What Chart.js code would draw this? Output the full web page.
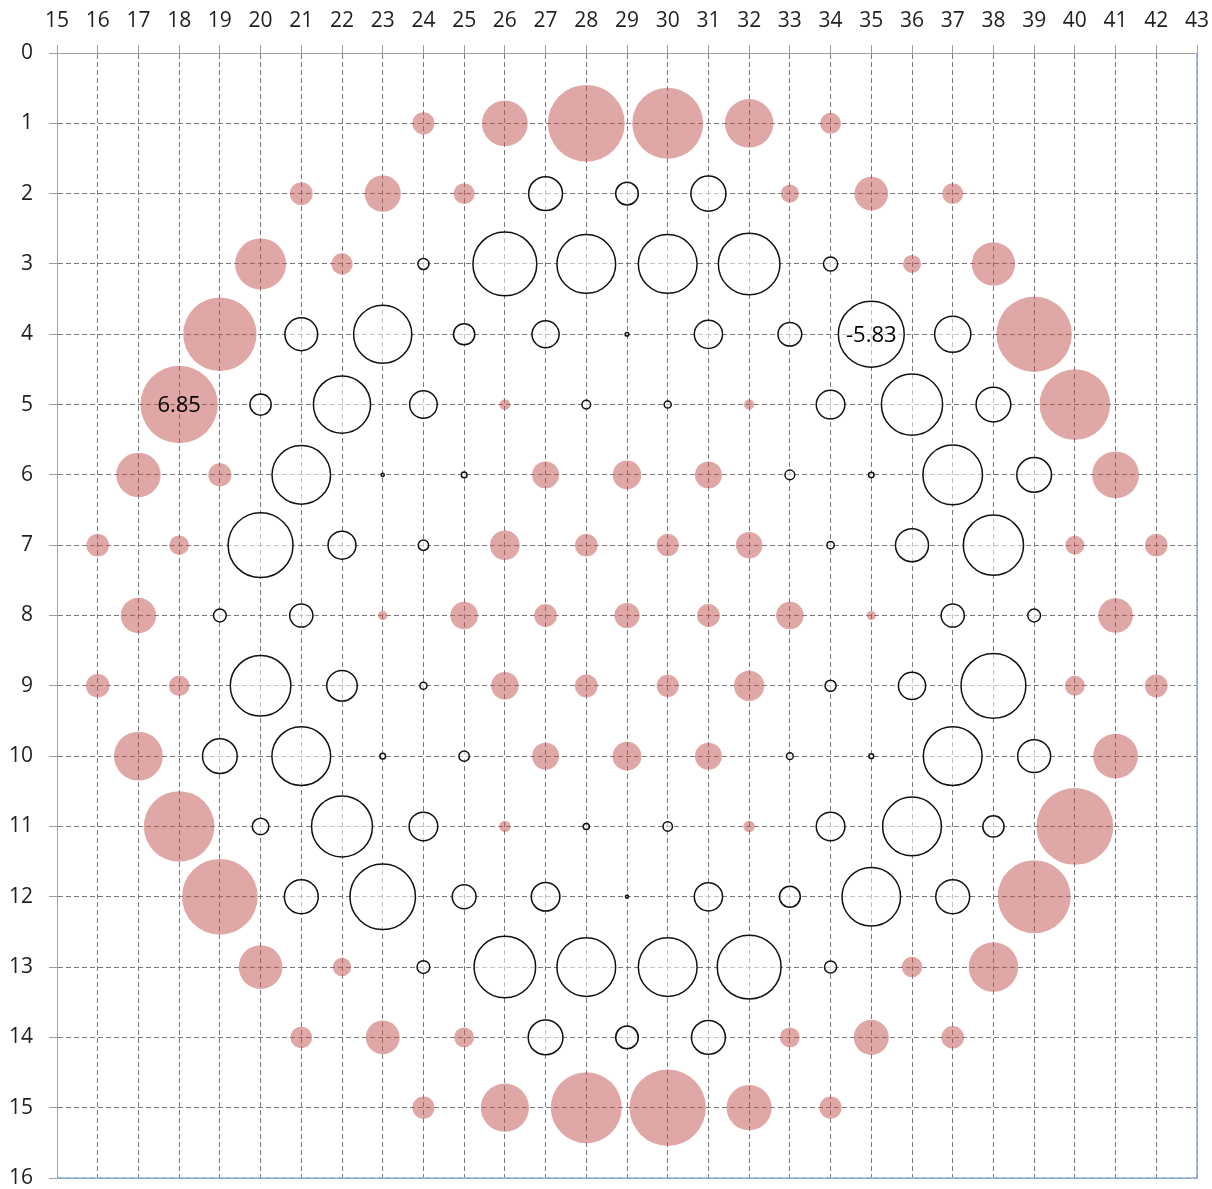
<!DOCTYPE html>
<html>
<head>
<meta charset="utf-8">
<script src="https://cdn.jsdelivr.net/npm/chart.js@4.4.1/dist/chart.umd.min.js"></script>
<style>
  html, body { margin: 0; padding: 0; background: #ffffff; }
  #wrap { width: 1212px; height: 1189px; position: relative; }
</style>
</head>
<body>
<div id="wrap"><canvas id="chart"></canvas></div>
<script>
  "use strict";

  // Axis ranges (x along the top, y reversed downward)
  const X_MIN = 15;
  const X_MAX = 43;
  const Y_MIN = 0;
  const Y_MAX = 16;

  // One list per row: [column, value]; positive = red, negative = hollow
  const ROW_1 = [[24, 1.96], [26, 4.05], [28, 6.8], [30, 6.28], [32, 4.29], [34, 1.85]];
  const ROW_2 = [[21, 2.02], [23, 3.21], [25, 1.85], [27, -3.0], [29, -2.0], [31, -3.1], [33, 1.6], [35, 2.98], [37, 1.85]];
  const ROW_3 = [[20, 4.52], [22, 1.88], [24, -0.98], [26, -5.65], [28, -5.2], [30, -5.2], [32, -5.45], [34, -1.25], [36, 1.6], [38, 3.84]];
  const ROW_4 = [[19, 6.49], [21, -2.9], [23, -5.15], [25, -1.88], [27, -2.4], [29, -0.33], [31, -2.5], [33, -2.1], [35, -5.83], [37, -3.2], [39, 6.67]];
  const ROW_5 = [[18, 6.85], [20, -1.88], [22, -5.06], [24, -2.44], [26, 0.95], [28, -0.77], [30, -0.63], [32, 0.9], [34, -2.53], [36, -5.42], [38, -3.07], [40, 6.25]];
  const ROW_6 = [[17, 3.93], [19, 2.05], [21, -5.18], [23, -0.27], [25, -0.5], [27, 2.38], [29, 2.53], [31, 2.38], [33, -0.86], [35, -0.48], [37, -5.27], [39, -3.07], [41, 4.14]];
  const ROW_7 = [[16, 2.0], [18, 1.73], [20, -5.74], [22, -2.47], [24, -0.92], [26, 2.62], [28, 2.0], [30, 1.96], [32, 2.35], [34, -0.65], [36, -2.92], [38, -5.33], [40, 1.67], [42, 2.0]];
  const ROW_8 = [[17, 3.13], [19, -1.13], [21, -2.05], [23, 0.83], [25, 2.44], [27, 2.02], [29, 2.23], [31, 2.02], [33, 2.44], [35, 0.8], [37, -2.05], [39, -1.13], [41, 3.07]];
  const ROW_9 = [[16, 2.08], [18, 1.82], [20, -5.36], [22, -2.7], [24, -0.63], [26, 2.44], [28, 2.02], [30, 1.96], [32, 2.68], [34, -0.98], [36, -2.41], [38, -5.74], [40, 1.76], [42, 2.02]];
  const ROW_10 = [[17, 4.32], [19, -3.07], [21, -5.2], [23, -0.5], [25, -0.92], [27, 2.38], [29, 2.56], [31, 2.38], [33, -0.6], [35, -0.42], [37, -5.2], [39, -2.92], [41, 3.96]];
  const ROW_11 = [[18, 6.25], [20, -1.46], [22, -5.39], [24, -2.53], [26, 1.0], [28, -0.54], [30, -0.83], [32, 1.0], [34, -2.53], [36, -5.2], [38, -1.88], [40, 6.8]];
  const ROW_12 = [[19, 6.7], [21, -3.0], [23, -5.8], [25, -2.11], [27, -2.53], [29, -0.27], [31, -2.5], [33, -1.85], [35, -5.18], [37, -3.0], [39, 6.46]];
  const ROW_13 = [[20, 3.87], [22, 1.64], [24, -1.13], [26, -5.45], [28, -5.2], [30, -5.2], [32, -5.65], [34, -1.07], [36, 1.82], [38, 4.38]];
  const ROW_14 = [[21, 1.9], [23, 3.0], [25, 1.76], [27, -3.07], [29, -2.0], [31, -3.0], [33, 1.76], [35, 3.1], [37, 2.0]];
  const ROW_15 = [[24, 1.96], [26, 4.26], [28, 6.28], [30, 6.76], [32, 4.0], [34, 1.96]];

  const ROWS = [ROW_1, ROW_2, ROW_3, ROW_4, ROW_5, ROW_6, ROW_7, ROW_8,
    ROW_9, ROW_10, ROW_11, ROW_12, ROW_13, ROW_14, ROW_15];

  // Points that carry a value label: [column, row]
  const LABELED_POINTS = [[18, 5], [35, 4]];

  const colors = {
    positive: "rgba(192, 80, 77, 0.5)",
    negativeFill: "rgba(255, 255, 255, 0.55)",
    negativeLine: "#111111",
    grid: "#7a7a7a",
    axis: "#a0a0a0",
    plotBorder: "#8eaadb",
    text: "#1f1f1f",
  };

  const FONT_FAMILY = "'Open Sans', 'DejaVu Sans', sans-serif";
  const tickFont = { size: 21, family: FONT_FAMILY, lineHeight: 1 };

  // bubble radius in px per unit of value (bubble width ~ |value|)
  const PX_PER_VALUE = 5.65;

  function buildPoints(sign) {
    const out = [];
    ROWS.forEach((row, i) => {
      row.forEach(([x, v]) => {
        if (Math.sign(v) !== sign) return;
        out.push({ x: x, y: i + 1, v: v, r: Math.abs(v) * PX_PER_VALUE });
      });
    });
    return out;
  }

  function valueAt(x, y) {
    const row = ROWS[y - 1] || [];
    const hit = row.find((p) => p[0] === x);
    return hit ? hit[1] : null;
  }

  const valueLabels = {
    id: "valueLabels",
    afterDatasetsDraw(chart) {
      const { ctx, scales } = chart;
      ctx.save();
      ctx.font = "22px " + FONT_FAMILY;
      ctx.fillStyle = "#000000";
      ctx.textAlign = "center";
      ctx.textBaseline = "middle";
      LABELED_POINTS.forEach(([x, y]) => {
        const v = valueAt(x, y);
        if (v === null) return;
        ctx.fillText(v.toFixed(2), scales.x.getPixelForValue(x), scales.y.getPixelForValue(y) + 1);
      });
      ctx.restore();
    },
  };

  // right and bottom edge of the plot area in light blue
  const plotBorder = {
    id: "plotBorder",
    afterDraw(chart) {
      const { ctx, chartArea: a } = chart;
      ctx.save();
      ctx.strokeStyle = colors.plotBorder;
      ctx.lineWidth = 1.5;
      ctx.beginPath();
      ctx.moveTo(a.left, a.bottom);
      ctx.lineTo(a.right, a.bottom);
      ctx.lineTo(a.right, a.top);
      ctx.stroke();
      ctx.restore();
    },
  };

  const gridStyle = {
    color: colors.grid,
    lineWidth: 1,
    drawTicks: true,
    tickLength: 8,
    tickColor: colors.axis,
    tickWidth: 1,
  };

  const borderStyle = {
    display: true,
    color: colors.axis,
    width: 1,
    dash: [5, 3],
  };

  new Chart(document.getElementById("chart"), {
    type: "bubble",
    data: {
      datasets: [
        {
          label: "positive",
          data: buildPoints(1),
          backgroundColor: colors.positive,
          borderWidth: 0,
        },
        {
          label: "negative",
          data: buildPoints(-1),
          backgroundColor: colors.negativeFill,
          borderColor: colors.negativeLine,
          borderWidth: 1.5,
        },
      ],
    },
    options: {
      responsive: true,
      maintainAspectRatio: false,
      animation: false,
      events: [],
      layout: { autoPadding: false, padding: { left: 0, top: 0, right: 15, bottom: 11 } },
      plugins: {
        legend: { display: false },
        tooltip: { enabled: false },
      },
      scales: {
        x: {
          type: "linear",
          position: "top",
          min: X_MIN,
          max: X_MAX,
          grid: gridStyle,
          border: borderStyle,
          ticks: {
            stepSize: 1,
            color: colors.text,
            font: tickFont,
            padding: 13,
            maxRotation: 0,
            autoSkip: false,
          },
          afterFit(scale) {
            scale.height = 53;
            scale.paddingLeft = 0;
            scale.paddingRight = 0;
          },
        },
        y: {
          type: "linear",
          position: "left",
          reverse: true,
          min: Y_MIN,
          max: Y_MAX,
          grid: gridStyle,
          border: borderStyle,
          ticks: {
            stepSize: 1,
            color: colors.text,
            font: tickFont,
            padding: 16,
            autoSkip: false,
          },
          afterFit(scale) {
            scale.width = 57;
            scale.paddingTop = 0;
            scale.paddingBottom = 0;
          },
        },
      },
    },
    plugins: [valueLabels, plotBorder],
  });
</script>
</body>
</html>
